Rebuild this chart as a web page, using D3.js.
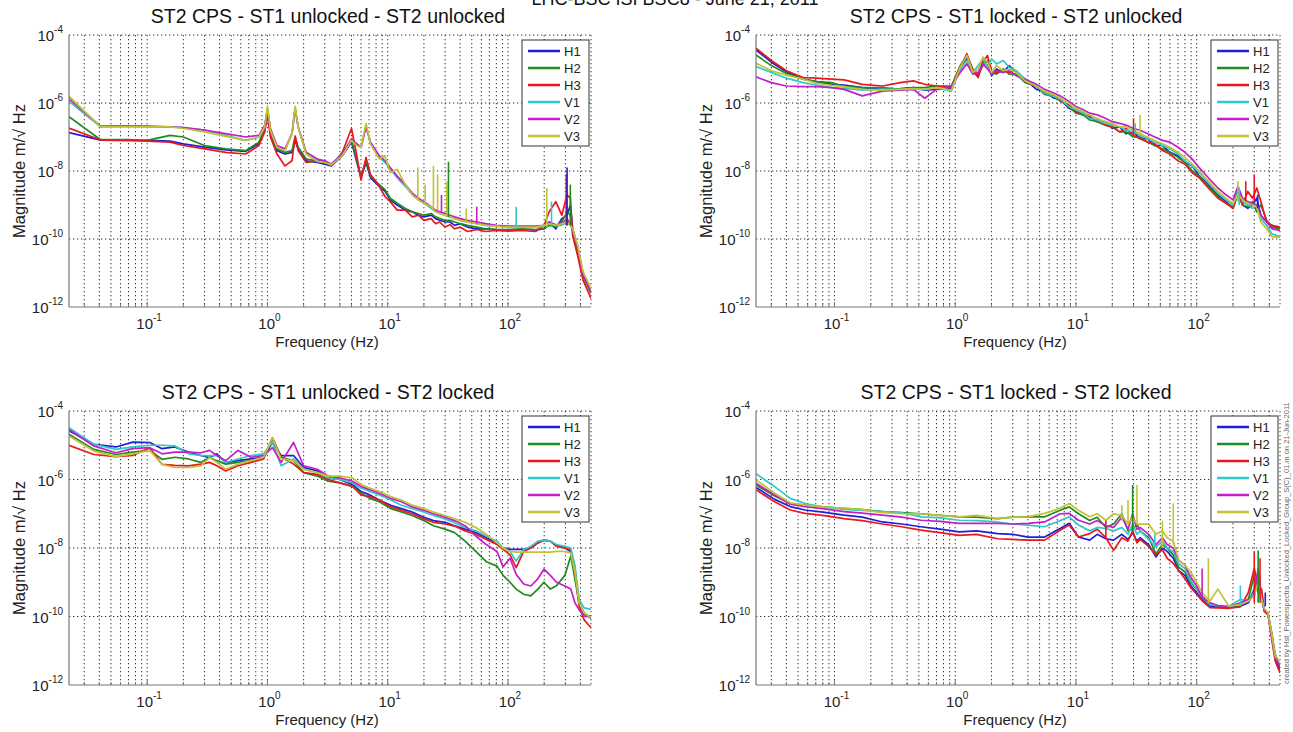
<!DOCTYPE html>
<html>
<head>
<meta charset="utf-8">
<script src="https://cdn.jsdelivr.net/npm/d3@7"></script>
<style>
  body { margin: 0; background: #fff; }
  svg { display: block; font-family: "Liberation Sans", Arial, sans-serif; }
</style>
</head>
<body>
<div id="chart"></div>
<script>
// sensor names and colours (MATLAB-like)
const seriesNames = ["H1", "H2", "H3", "V1", "V2", "V3"];
const seriesColors = ["#1f1fd6", "#1e8c1e", "#e8191e", "#30c8c8", "#c41ec8", "#c2c234"];
const panelTitles = [
  "ST2 CPS - ST1 unlocked - ST2 unlocked",
  "ST2 CPS - ST1 locked - ST2 unlocked",
  "ST2 CPS - ST1 unlocked - ST2 locked",
  "ST2 CPS - ST1 locked - ST2 locked"
];
const xTickExp = [-1, 0, 1, 2];
const yTickExp = [-12, -10, -8, -6, -4];
const xRange = [0.0224, 490];
const yRange = [1e-12, 1e-4];

// values are log10 of magnitude (m/sqrt Hz)

// panel 1 : ST1 unlocked - ST2 unlocked
const f1 = [0.0224, 0.041, 0.07, 0.1, 0.155, 0.2, 0.3, 0.45, 0.66, 0.85,
  0.95, 1.0, 1.06, 1.2, 1.4, 1.6, 1.7, 1.8, 2.1, 2.6,
  3.0, 3.4, 4.2, 5.0, 5.5, 6.0, 6.6, 7.2, 8.5, 9.5,
  10.5, 12, 14, 16, 18, 20, 23, 25, 27, 30,
  33, 36, 40, 46, 55, 65, 80, 100, 130, 170,
  200, 220, 250, 280, 310, 330, 345, 380, 420, 490];
const p1H1 = [-6.87, -7.09, -7.1, -7.1, -7.12, -7.2, -7.3, -7.38, -7.42, -7.2,
  -6.8, -6.25, -6.9, -7.4, -7.5, -7.45, -7.1, -7.35, -7.7, -7.75,
  -7.8, -7.85, -7.55, -7.15, -7.7, -8.2, -7.75, -8.2, -8.45, -8.6,
  -8.85, -9.0, -9.15, -9.2, -9.3, -9.35, -9.3, -9.4, -9.45, -9.5,
  -9.5, -9.6, -9.55, -9.65, -9.7, -9.7, -9.72, -9.73, -9.72, -9.73,
  -9.7, -9.5, -9.7, -9.4, -9.3, -9.0, -9.7, -10.3, -11.0, -11.5];
const p1H2 = [-6.4, -7.08, -7.08, -7.1, -6.95, -7.0, -7.25, -7.35, -7.4, -7.15,
  -6.75, -6.2, -6.85, -7.35, -7.45, -7.4, -7.0, -7.3, -7.65, -7.7,
  -7.75, -7.8, -7.5, -7.1, -7.65, -8.15, -7.7, -8.15, -8.4, -8.55,
  -8.8, -8.95, -9.1, -9.2, -9.25, -9.3, -9.25, -9.35, -9.4, -9.45,
  -9.45, -9.5, -9.55, -9.6, -9.65, -9.7, -9.72, -9.72, -9.7, -9.72,
  -9.7, -9.6, -9.65, -9.5, -9.2, -9.3, -9.8, -10.4, -11.1, -11.6];
const p1H3 = [-6.74, -7.09, -7.1, -7.12, -7.15, -7.25, -7.35, -7.45, -7.5, -7.25,
  -6.85, -6.35, -7.0, -7.5, -7.85, -7.7, -6.97, -7.4, -7.75, -7.7,
  -7.7, -7.85, -7.45, -6.75, -7.5, -8.27, -7.6, -8.1, -8.45, -8.75,
  -8.9, -9.15, -9.15, -9.35, -9.3, -9.45, -9.4, -9.55, -9.5, -9.65,
  -9.58, -9.7, -9.65, -9.78, -9.72, -9.78, -9.75, -9.77, -9.75, -9.78,
  -9.6, -9.2, -8.9, -9.3, -8.7, -8.8, -9.9, -10.5, -11.2, -11.75];
const p1V1 = [-5.95, -6.7, -6.68, -6.7, -6.7, -6.72, -6.8, -6.95, -7.1, -7.0,
  -6.7, -6.15, -6.8, -7.3, -7.4, -6.9, -6.15, -6.7, -7.5, -7.7,
  -7.75, -7.8, -7.5, -7.1, -7.2, -7.3, -6.7, -7.2, -7.6, -7.75,
  -7.95, -8.2, -8.45, -8.7, -8.85, -8.95, -9.1, -9.2, -9.25, -9.3,
  -9.35, -9.4, -9.45, -9.5, -9.55, -9.6, -9.62, -9.65, -9.65, -9.65,
  -9.62, -9.55, -9.6, -9.6, -9.5, -9.6, -9.7, -10.2, -11.0, -11.5];
const p1V2 = [-5.88, -6.68, -6.68, -6.68, -6.7, -6.72, -6.8, -6.9, -7.0, -6.95,
  -6.65, -6.2, -6.75, -7.25, -7.35, -6.9, -6.15, -6.7, -7.45, -7.65,
  -7.7, -7.8, -7.5, -7.05, -7.2, -7.3, -6.7, -7.15, -7.55, -7.7,
  -7.9, -8.15, -8.4, -8.65, -8.8, -8.9, -9.05, -9.15, -9.2, -9.25,
  -9.3, -9.35, -9.4, -9.45, -9.5, -9.55, -9.6, -9.62, -9.62, -9.62,
  -9.6, -9.5, -9.58, -9.55, -9.4, -9.55, -9.75, -10.25, -11.05, -11.55];
const p1V3 = [-5.8, -6.7, -6.7, -6.7, -6.7, -6.75, -6.85, -6.98, -7.1, -7.0,
  -6.7, -6.09, -6.8, -7.3, -7.4, -6.9, -6.1, -6.7, -7.5, -7.72,
  -7.75, -7.82, -7.55, -7.1, -7.25, -7.3, -6.6, -7.2, -7.65, -7.55,
  -8.05, -7.95, -8.4, -8.7, -8.85, -8.95, -9.05, -9.2, -9.25, -9.3,
  -9.35, -9.4, -9.45, -9.5, -9.55, -9.6, -9.62, -9.65, -9.65, -9.65,
  -9.6, -9.55, -9.6, -9.55, -9.5, -9.6, -9.7, -10.2, -10.95, -11.45];
// narrow spectral lines: [series, freq, base, top]
const p1Spikes = [[5, 17.8, -8.85, -7.9], [5, 20.5, -8.95, -8.4], [5, 24, -9.1, -7.85],
  [5, 26, -9.15, -8.1], [4, 28, -9.2, -8.7], [5, 31, -9.3, -8.3], [1, 32, -9.35, -7.73],
  [5, 45, -9.5, -9.1], [4, 55, -9.55, -9.05], [3, 117, -9.65, -9.05], [5, 210, -9.65, -8.5],
  [3, 230, -9.65, -8.9], [2, 305, -9.6, -8.1], [0, 310, -9.6, -7.9], [1, 330, -9.6, -8.4]];

// panel 2 : ST1 locked - ST2 unlocked
const f2 = [0.0224, 0.03, 0.04, 0.055, 0.071, 0.095, 0.12, 0.17, 0.25, 0.35,
  0.45, 0.56, 0.7, 0.93, 1.1, 1.25, 1.4, 1.55, 1.7, 1.85,
  2.0, 2.2, 2.5, 2.8, 3.2, 3.8, 4.7, 5.5, 6.5, 7.5,
  8.7, 10, 11.5, 13, 15, 17.5, 20, 23, 26, 30,
  34, 39, 45, 52, 60, 70, 80, 92, 105, 125,
  150, 175, 200, 220, 240, 265, 290, 315, 340, 380,
  420, 490];
const p2H1 = [-4.44, -4.8, -5.08, -5.3, -5.37, -5.45, -5.47, -5.55, -5.6, -5.58,
  -5.55, -5.62, -5.6, -5.58, -5.0, -4.7, -5.1, -5.2, -4.75, -4.8,
  -5.2, -5.0, -5.1, -4.9, -5.1, -5.3, -5.6, -5.65, -5.85, -5.9,
  -6.15, -6.25, -6.35, -6.4, -6.55, -6.55, -6.75, -6.7, -6.9, -6.85,
  -7.05, -7.05, -7.25, -7.25, -7.45, -7.55, -7.75, -7.85, -8.15, -8.4,
  -8.7, -8.9, -9.1, -8.6, -9.0, -9.1, -9.0, -8.8, -9.3, -9.5,
  -9.6, -9.7];
const p2H2 = [-4.59, -4.9, -5.13, -5.3, -5.37, -5.4, -5.52, -5.55, -5.55, -5.6,
  -5.55, -5.55, -5.5, -5.5, -4.9, -4.6, -5.0, -5.15, -4.9, -4.75,
  -5.1, -5.15, -5.0, -5.15, -5.15, -5.4, -5.5, -5.75, -5.8, -5.95,
  -6.1, -6.3, -6.35, -6.5, -6.55, -6.65, -6.7, -6.85, -6.85, -7.0,
  -7.0, -7.15, -7.25, -7.35, -7.45, -7.6, -7.75, -8.0, -8.15, -8.45,
  -8.75, -8.95, -9.05, -8.7, -9.0, -9.05, -8.9, -9.2, -9.0, -9.45,
  -9.65, -9.7];
const p2H3 = [-4.39, -4.75, -5.05, -5.25, -5.27, -5.3, -5.32, -5.45, -5.5, -5.4,
  -5.35, -5.45, -5.5, -5.55, -4.95, -4.55, -5.05, -5.25, -4.8, -4.6,
  -5.05, -5.1, -5.05, -5.1, -5.05, -5.35, -5.5, -5.7, -5.75, -5.95,
  -6.05, -6.25, -6.3, -6.45, -6.5, -6.65, -6.7, -6.85, -6.75, -6.95,
  -7.05, -7.15, -7.2, -7.4, -7.5, -7.7, -7.8, -8.05, -8.2, -8.5,
  -8.8, -8.95, -9.1, -8.6, -9.0, -8.6, -8.8, -8.5, -8.9, -9.5,
  -9.6, -9.65];
const p2V1 = [-4.93, -5.1, -5.27, -5.4, -5.47, -5.55, -5.57, -5.62, -5.6, -5.6,
  -5.6, -5.6, -5.55, -5.65, -5.0, -4.75, -5.1, -4.9, -4.7, -4.95,
  -4.7, -4.85, -4.75, -4.95, -5.05, -5.3, -5.5, -5.7, -5.8, -5.9,
  -6.1, -6.2, -6.3, -6.45, -6.5, -6.6, -6.65, -6.7, -6.8, -6.85,
  -6.95, -7.05, -7.15, -7.25, -7.35, -7.5, -7.7, -7.85, -8.05, -8.35,
  -8.65, -8.85, -9.0, -8.5, -8.9, -9.0, -9.1, -9.0, -9.4, -9.6,
  -9.85, -9.93];
const p2V2 = [-5.23, -5.4, -5.5, -5.52, -5.52, -5.55, -5.6, -5.79, -5.65, -5.62,
  -5.6, -5.86, -5.6, -5.5, -5.1, -4.85, -5.15, -5.1, -4.85, -5.0,
  -5.15, -5.05, -5.1, -5.05, -5.2, -5.3, -5.45, -5.6, -5.7, -5.8,
  -5.95, -6.1, -6.2, -6.3, -6.35, -6.45, -6.55, -6.6, -6.65, -6.75,
  -6.8, -6.9, -7.0, -7.1, -7.15, -7.3, -7.45, -7.65, -7.9, -8.2,
  -8.5, -8.7, -8.85, -8.45, -8.8, -8.9, -8.95, -9.0, -9.3, -9.5,
  -9.7, -9.75];
const p2V3 = [-4.83, -5.05, -5.18, -5.3, -5.42, -5.48, -5.52, -5.6, -5.62, -5.6,
  -5.58, -5.6, -5.55, -5.62, -4.95, -4.6, -5.1, -5.0, -4.65, -4.8,
  -5.1, -4.9, -5.05, -5.0, -5.1, -5.35, -5.5, -5.65, -5.75, -5.85,
  -6.0, -6.15, -6.25, -6.35, -6.45, -6.55, -6.6, -6.7, -6.7, -6.8,
  -6.9, -7.0, -7.1, -7.2, -7.3, -7.45, -7.6, -7.8, -8.0, -8.3,
  -8.6, -8.8, -8.95, -8.7, -8.85, -8.95, -9.0, -9.05, -9.5, -9.7,
  -9.93, -9.95];
const p2Spikes = [[2, 30, -6.95, -6.45], [3, 31, -6.9, -6.6], [5, 34, -6.9, -6.35],
  [5, 220, -8.9, -8.3], [3, 225, -9.0, -8.5], [2, 255, -8.9, -8.3], [2, 300, -8.9, -8.1],
  [0, 320, -9.1, -8.7]];

// panel 3 : ST1 unlocked - ST2 locked
const f3 = [0.0224, 0.036, 0.055, 0.076, 0.105, 0.133, 0.17, 0.22, 0.28, 0.33,
  0.38, 0.45, 0.57, 0.73, 0.93, 1.1, 1.3, 1.65, 2.0, 2.6,
  3.2, 4.0, 5.1, 6.0, 7.1, 8.5, 10.6, 13, 16, 20,
  24, 30, 36, 44, 54, 66, 81, 91, 104, 117,
  135, 155, 177, 199, 225, 253, 297, 333, 360, 390,
  430, 490];
const p3H1 = [-4.58, -4.97, -5.05, -4.91, -4.92, -5.1, -5.05, -5.2, -5.3, -5.36,
  -5.25, -5.51, -5.45, -5.4, -5.35, -4.92, -5.3, -5.3, -5.65, -5.75,
  -5.95, -6.0, -6.15, -6.35, -6.45, -6.6, -6.75, -6.85, -6.95, -7.1,
  -7.2, -7.25, -7.35, -7.45, -7.55, -7.7, -7.85, -8.0, -8.04, -8.04,
  -8.04, -8.0, -7.85, -7.77, -7.8, -7.94, -8.0, -8.1, -8.6, -9.6,
  -9.9, -10.05];
const p3H2 = [-4.68, -5.12, -5.27, -5.2, -5.15, -5.41, -5.35, -5.4, -5.5, -5.36,
  -5.45, -5.55, -5.5, -5.45, -5.35, -4.8, -5.35, -5.45, -5.8, -5.9,
  -6.05, -6.1, -6.2, -6.4, -6.55, -6.65, -6.85, -6.95, -7.05, -7.2,
  -7.35, -7.45, -7.55, -7.8, -8.1, -8.4, -8.53, -8.8, -9.0, -9.2,
  -9.35, -9.4, -9.2, -9.0, -9.2, -9.1, -8.8, -8.23, -8.9, -9.6,
  -9.95, -10.0];
const p3H3 = [-5.0, -5.27, -5.33, -5.3, -5.07, -5.56, -5.59, -5.6, -5.55, -5.5,
  -5.6, -5.75, -5.6, -5.5, -5.4, -4.78, -5.35, -5.55, -5.8, -5.85,
  -6.0, -6.1, -6.2, -6.45, -6.5, -6.6, -6.8, -6.9, -7.0, -7.15,
  -7.25, -7.3, -7.36, -7.5, -7.6, -7.75, -7.9, -8.04, -8.2, -8.57,
  -8.1, -8.0, -7.85, -7.77, -7.8, -7.95, -8.0, -8.05, -8.7, -9.7,
  -10.1, -10.33];
const p3V1 = [-4.49, -4.97, -5.12, -5.05, -5.0, -5.0, -5.02, -5.25, -5.3, -5.3,
  -5.3, -5.5, -5.4, -5.3, -5.25, -4.92, -5.6, -5.4, -5.7, -5.8,
  -5.95, -6.0, -6.1, -6.25, -6.35, -6.45, -6.6, -6.75, -6.85, -6.95,
  -7.05, -7.15, -7.26, -7.4, -7.5, -7.65, -7.8, -8.0, -8.1, -8.38,
  -8.05, -7.95, -7.8, -7.77, -7.8, -7.9, -7.95, -8.0, -8.5, -9.5,
  -9.75, -9.79];
const p3V2 = [-4.54, -5.02, -5.22, -5.1, -5.07, -5.25, -5.2, -5.2, -5.22, -5.15,
  -5.3, -5.45, -5.15, -5.35, -5.3, -5.07, -5.5, -4.92, -5.6, -5.7,
  -5.9, -5.95, -6.05, -6.2, -6.3, -6.4, -6.55, -6.65, -6.8, -6.9,
  -7.0, -7.1, -7.2, -7.35, -7.65, -7.9, -8.1, -8.55, -8.3, -8.77,
  -9.05, -9.11, -8.9, -8.62, -8.8, -9.0, -9.11, -9.2, -9.6, -9.8,
  -10.0, -10.0];
const p3V3 = [-4.73, -5.17, -5.33, -5.25, -5.15, -5.56, -5.65, -5.65, -5.6, -5.36,
  -5.5, -5.7, -5.55, -5.45, -5.35, -4.78, -5.4, -5.45, -5.7, -5.8,
  -5.9, -5.9, -5.95, -6.15, -6.25, -6.35, -6.5, -6.6, -6.75, -6.85,
  -6.95, -7.05, -7.15, -7.25, -7.4, -7.6, -7.85, -8.0, -8.1, -8.12,
  -8.12, -8.12, -8.12, -8.12, -8.12, -8.1, -8.1, -8.15, -8.7, -9.6,
  -9.9, -10.03];
const p3Spikes = [];

// panel 4 : ST1 locked - ST2 locked
const f4 = [0.0224, 0.032, 0.043, 0.057, 0.08, 0.12, 0.17, 0.25, 0.36, 0.52,
  0.75, 1.08, 1.5, 2.25, 3.0, 4.0, 5.5, 7.4, 8.8, 10.5,
  13, 15, 17.7, 20.5, 24, 27, 29.5, 32, 34, 40,
  46, 52, 57, 64, 71, 80, 89, 100, 111, 129,
  150, 185, 230, 268, 300, 323, 345, 362, 390, 420,
  447, 490];
const p4H1 = [-6.23, -6.58, -6.79, -6.89, -6.95, -7.04, -7.1, -7.24, -7.3, -7.38,
  -7.45, -7.53, -7.5, -7.58, -7.6, -7.68, -7.68, -7.43, -7.28, -7.68,
  -7.77, -7.6, -7.73, -7.77, -7.6, -7.75, -7.55, -7.8, -7.7, -7.9,
  -8.26, -8.0, -8.1, -8.3, -8.66, -8.8, -9.1, -9.3, -9.5, -9.7,
  -9.72, -9.74, -9.7, -9.6, -9.2, -9.0, -9.3, -9.8, -9.93, -10.6,
  -11.2, -11.55];
const p4H2 = [-6.16, -6.48, -6.7, -6.75, -6.8, -6.84, -6.88, -6.94, -6.97, -7.0,
  -7.05, -7.09, -7.1, -7.14, -7.1, -7.09, -7.09, -6.9, -6.8, -7.0,
  -7.2, -7.1, -7.4, -7.3, -7.0, -7.5, -7.45, -7.3, -7.5, -7.7,
  -8.17, -7.9, -8.0, -8.2, -8.56, -8.7, -9.0, -9.2, -9.4, -9.65,
  -9.7, -9.72, -9.7, -9.5, -8.8, -9.3, -9.4, -9.8, -9.9, -10.5,
  -11.1, -11.5];
const p4H3 = [-6.3, -6.65, -6.89, -6.99, -7.05, -7.14, -7.2, -7.3, -7.38, -7.48,
  -7.55, -7.63, -7.6, -7.73, -7.75, -7.77, -7.77, -7.48, -7.33, -7.68,
  -7.58, -7.45, -7.7, -8.07, -7.7, -7.8, -7.5, -7.85, -7.75, -7.95,
  -8.2, -8.05, -8.3, -8.45, -8.66, -8.9, -9.15, -9.35, -9.54, -9.74,
  -9.75, -9.76, -9.72, -9.3, -8.6, -9.1, -9.2, -9.85, -9.95, -10.7,
  -11.3, -11.65];
const p4V1 = [-5.83, -6.21, -6.55, -6.7, -6.8, -6.87, -6.9, -6.94, -6.97, -7.09,
  -7.12, -7.19, -7.2, -7.24, -7.3, -7.33, -7.38, -7.2, -7.09, -7.33,
  -7.5, -7.4, -7.43, -7.5, -7.4, -7.6, -7.3, -7.6, -7.5, -7.75,
  -7.97, -7.8, -8.0, -8.1, -8.46, -8.6, -8.95, -9.2, -9.45, -9.65,
  -9.68, -9.7, -9.5, -9.55, -9.3, -9.1, -9.5, -9.8, -9.9, -10.55,
  -11.2, -11.4];
const p4V2 = [-6.11, -6.45, -6.72, -6.79, -6.85, -6.94, -6.98, -7.04, -7.1, -7.19,
  -7.22, -7.28, -7.28, -7.28, -7.3, -7.28, -7.24, -7.0, -6.99, -7.19,
  -7.3, -7.2, -7.35, -7.4, -7.1, -7.45, -7.0, -7.45, -7.4, -7.6,
  -7.9, -7.7, -7.9, -8.0, -8.36, -8.5, -8.85, -9.1, -9.45, -9.6,
  -9.68, -9.72, -9.6, -9.5, -9.4, -8.6, -9.5, -9.8, -9.9, -10.6,
  -11.2, -11.45];
const p4V3 = [-6.01, -6.4, -6.68, -6.75, -6.8, -6.84, -6.88, -6.97, -7.0, -7.0,
  -7.05, -7.09, -7.05, -7.14, -7.1, -7.09, -6.99, -6.84, -6.7, -6.9,
  -7.09, -7.0, -7.19, -7.0, -7.05, -7.3, -7.1, -7.3, -7.3, -7.3,
  -7.6, -7.5, -7.7, -7.8, -8.36, -8.5, -8.7, -9.0, -9.3, -9.55,
  -9.2, -9.7, -9.65, -9.55, -9.4, -9.0, -9.5, -9.75, -9.9, -10.55,
  -11.15, -11.3];
const p4Spikes = [[2, 17.7, -7.7, -7.2], [5, 24, -7.2, -6.75], [5, 27, -7.3, -6.6],
  [1, 29.5, -7.5, -6.16], [5, 32, -7.3, -6.16], [3, 45, -8.0, -7.6], [5, 52, -8.0, -7.2],
  [5, 64, -7.9, -6.7], [4, 111, -9.4, -8.6], [5, 125, -9.6, -8.3], [3, 230, -9.7, -9.1],
  [2, 300, -9.6, -8.1], [1, 323, -9.6, -8.07], [2, 335, -9.6, -8.3], [0, 370, -9.7, -9.3]];

const panels = [
  { title: panelTitles[0], freq: f1, series: [p1H1, p1H2, p1H3, p1V1, p1V2, p1V3], spikes: p1Spikes, box: { left: 69, top: 35, w: 522, h: 272 } },
  { title: panelTitles[1], freq: f2, series: [p2H1, p2H2, p2H3, p2V1, p2V2, p2V3], spikes: p2Spikes, box: { left: 756, top: 35, w: 524, h: 272 } },
  { title: panelTitles[2], freq: f3, series: [p3H1, p3H2, p3H3, p3V1, p3V2, p3V3], spikes: p3Spikes, box: { left: 69, top: 411, w: 522, h: 274 } },
  { title: panelTitles[3], freq: f4, series: [p4H1, p4H2, p4H3, p4V1, p4V2, p4V3], spikes: p4Spikes, box: { left: 756, top: 411, w: 524, h: 274 } }
];

const W = 1293, H = 732;
const svg = d3.select("#chart").append("svg").attr("width", W).attr("height", H);

// figure title, its top half is cut off by the page edge like in the source
svg.append("text").attr("x", 675).attr("y", 5).attr("text-anchor", "middle")
  .style("font-size", "18px").attr("fill", "#111").text("LHC-BSC ISI BSC8 - June 21, 2011");

function supLabel(sel, exp) {
  sel.append("tspan").text("10");
  sel.append("tspan").attr("dy", -8).style("font-size", "10px").text(exp);
}

panels.forEach(function(p, pi) {
  const b = p.box;
  const x = d3.scaleLog().domain(xRange).range([b.left, b.left + b.w]);
  const y = d3.scaleLog().domain(yRange).range([b.top + b.h, b.top]);
  const g = svg.append("g");

  // dotted grid
  const xg = x.ticks().filter(v => v > xRange[0] * 1.02);
  g.selectAll("line.vg").data(xg.concat([xRange[1]])).enter().append("line")
    .attr("x1", d => x(d)).attr("x2", d => x(d))
    .attr("y1", b.top).attr("y2", b.top + b.h)
    .attr("stroke", "#333").attr("stroke-width", 1).attr("stroke-dasharray", "1.3,2.7");
  g.selectAll("line.hg").data(yTickExp.slice(1)).enter().append("line")
    .attr("x1", b.left).attr("x2", b.left + b.w)
    .attr("y1", d => y(Math.pow(10, d))).attr("y2", d => y(Math.pow(10, d)))
    .attr("stroke", "#333").attr("stroke-width", 1).attr("stroke-dasharray", "1.3,2.7");

  // curves
  const clipId = "clip" + pi;
  svg.append("clipPath").attr("id", clipId).append("rect")
    .attr("x", b.left).attr("y", b.top).attr("width", b.w).attr("height", b.h);
  const line = d3.line().x(d => x(d[0])).y(d => y(Math.pow(10, d[1])));
  const cg = g.append("g").attr("clip-path", "url(#" + clipId + ")");
  p.series.forEach(function(vals, si) {
    const pts = p.freq.map((f, i) => [f, vals[i]]);
    cg.append("path").datum(pts)
      .attr("d", line).attr("fill", "none")
      .attr("stroke", seriesColors[si]).attr("stroke-width", 1.7)
      .attr("stroke-linejoin", "round");
  });
  cg.selectAll("line.spike").data(p.spikes).enter().append("line")
    .attr("x1", d => x(d[1])).attr("x2", d => x(d[1]))
    .attr("y1", d => y(Math.pow(10, d[2]))).attr("y2", d => y(Math.pow(10, d[3])))
    .attr("stroke", d => seriesColors[d[0]]).attr("stroke-width", 1.6);

  // axis lines (left and bottom solid)
  g.append("line").attr("x1", b.left).attr("x2", b.left).attr("y1", b.top).attr("y2", b.top + b.h)
    .attr("stroke", "#777").attr("stroke-width", 1.2);
  g.append("line").attr("x1", b.left).attr("x2", b.left + b.w).attr("y1", b.top + b.h).attr("y2", b.top + b.h)
    .attr("stroke", "#777").attr("stroke-width", 1.2);

  // inner ticks on the bottom axis
  g.selectAll("line.tk").data(xg).enter().append("line")
    .attr("x1", d => x(d)).attr("x2", d => x(d))
    .attr("y1", b.top + b.h).attr("y2", d => b.top + b.h - (Math.abs(Math.log10(d) % 1) < 1e-6 ? 5 : 3))
    .attr("stroke", "#777");

  // tick labels
  xTickExp.forEach(function(e) {
    const t = g.append("text").attr("x", x(Math.pow(10, e)) + 2).attr("y", b.top + b.h + 22)
      .attr("text-anchor", "middle").style("font-size", "15px").attr("fill", "#222");
    supLabel(t, String(e));
  });
  yTickExp.forEach(function(e) {
    const t = g.append("text").attr("x", b.left - 6).attr("y", y(Math.pow(10, e)) + 6)
      .attr("text-anchor", "end").style("font-size", "15px").attr("fill", "#222");
    supLabel(t, String(e));
  });

  // axis titles
  g.append("text").attr("x", b.left + b.w / 2 - 3).attr("y", b.top + b.h + 40)
    .attr("text-anchor", "middle").style("font-size", "15px").attr("fill", "#222").text("Frequency (Hz)");
  g.append("text").attr("transform", "translate(" + (b.left - 44) + "," + (b.top + b.h / 2) + ") rotate(-90)")
    .attr("text-anchor", "middle").style("font-size", "16.5px").attr("fill", "#222").text("Magnitude m/\u221A Hz");

  // panel title
  g.append("text").attr("x", b.left + b.w / 2 - 2).attr("y", b.top - 12)
    .attr("text-anchor", "middle").style("font-size", "19.5px").attr("fill", "#111").text(p.title);

  // legend
  const lw = 67, lh = 106;
  const lx = b.left + b.w - lw - 2, ly = b.top + 5;
  const lg = g.append("g");
  lg.append("rect").attr("x", lx).attr("y", ly).attr("width", lw).attr("height", lh)
    .attr("fill", "#fff").attr("stroke", "#333").attr("stroke-width", 1);
  seriesNames.forEach(function(n, i) {
    const yy = ly + 11 + i * 17;
    lg.append("line").attr("x1", lx + 6).attr("x2", lx + 38).attr("y1", yy).attr("y2", yy)
      .attr("stroke", seriesColors[i]).attr("stroke-width", 2.5);
    lg.append("text").attr("x", lx + 42).attr("y", yy + 4.5).style("font-size", "13px")
      .attr("fill", "#222").text(n);
  });
});

// small creation note on the right edge
svg.append("text").attr("transform", "translate(1289,684) rotate(-90)")
  .style("font-size", "7.5px").attr("fill", "#666")
  .text("created by Hst_Powerspectra_Unlocked_Locked_Group_S(C)_01.m on 21-Jun-2011");
</script>
</body>
</html>
